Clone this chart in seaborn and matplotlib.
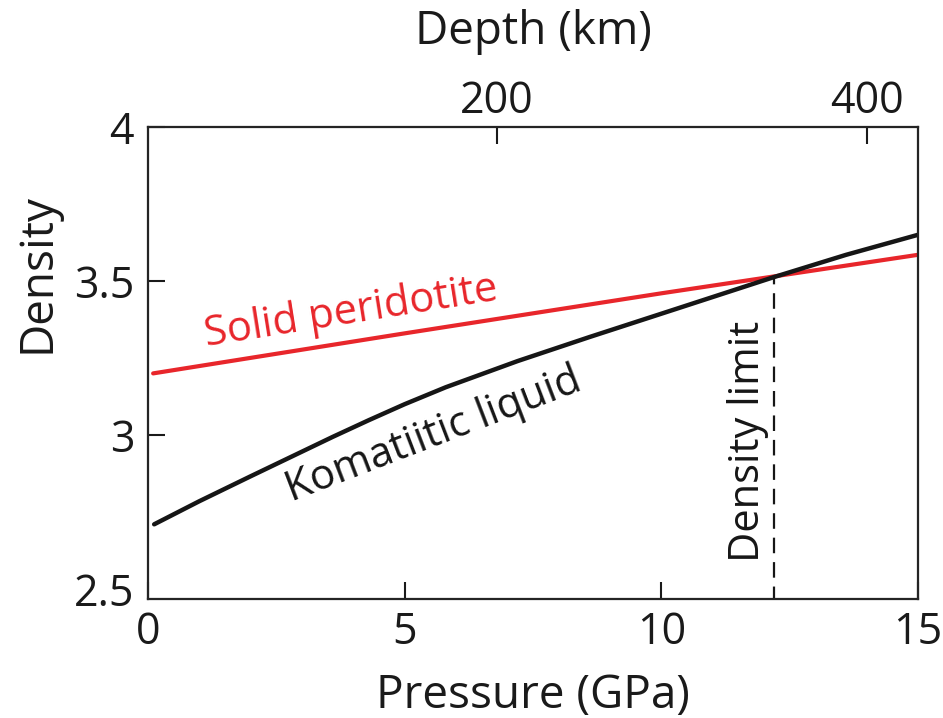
import numpy as np
import pandas as pd
import matplotlib
matplotlib.use('Agg')
import matplotlib.pyplot as plt
import seaborn as sns

# Solid peridotite (red)
solid_pressure = [0.1, 5.0, 10.0, 15.0]
solid_density = [3.20, 3.33, 3.46, 3.585]

# Komatiitic liquid (black)
liquid_pressure = [0.12, 1.0, 2.0, 2.8, 3.6, 4.3, 5.0, 5.8, 7.2, 8.6, 10.3, 12.2, 13.6, 15.0]
liquid_density = [2.71, 2.785, 2.866, 2.93, 2.994, 3.048, 3.1, 3.155, 3.24, 3.318, 3.41, 3.513, 3.585, 3.65]

# density limit (crossover)
limit_pressure = 12.2
limit_density = 3.52

# top axis: depth ticks and their pressure positions
depth_labels = ['200', '400']
depth_at_pressure = [6.8, 14.0]

sns.set_theme(style='ticks')
plt.rcParams['font.family'] = ['Open Sans', 'DejaVu Sans']

ink = '#1a1a1a'
red = '#e8262b'

fig = plt.figure(figsize=(9.43, 7.18), dpi=100)
ax = fig.add_axes([148 / 943, 1 - 599 / 718, (918 - 148) / 943, (599 - 127) / 718])

df_solid = pd.DataFrame({'P': solid_pressure, 'rho': solid_density})
df_liq = pd.DataFrame({'P': liquid_pressure, 'rho': liquid_density})
sns.lineplot(data=df_solid, x='P', y='rho', ax=ax, color=red, linewidth=3.0)
sns.lineplot(data=df_liq, x='P', y='rho', ax=ax, color='#161616', linewidth=3.2)
ax.plot([limit_pressure, limit_pressure], [2.3, limit_density], color='#161616',
        linewidth=1.6, linestyle=(0, (7, 4)))

ax.set_xlim(0, 15)
ax.set_ylim(2.4675, 4)
ax.set_xticks([0, 5, 10, 15])
ax.set_xticklabels(['0', '5', '10', '15'])
ax.set_yticks([2.5, 3, 3.5, 4])
ax.set_yticklabels(['2.5', '3', '3.5', '4'])
ax.tick_params(direction='in', length=12, width=1.5, labelsize=31, colors=ink)
ax.tick_params(axis='x', pad=8)
ax.tick_params(axis='y', pad=10)
ax.yaxis.get_major_ticks()[0].tick1line.set_visible(False)
ax.set_xlabel('Pressure (GPa)', fontsize=33, labelpad=13, color=ink)
ax.set_ylabel('Density', fontsize=33, color=ink)
ax.yaxis.set_label_coords(-0.114, 0.69)
for s in ax.spines.values():
    s.set_linewidth(1.6)
    s.set_color(ink)
    s.set_visible(True)

ax2 = ax.twiny()
ax2.set_xlim(ax.get_xlim())
ax2.set_xticks(depth_at_pressure)
ax2.set_xticklabels(depth_labels)
ax2.tick_params(direction='in', length=12, width=1.5, labelsize=31, pad=2, colors=ink)
ax2.set_xlabel('Depth (km)', fontsize=33, labelpad=26, color=ink)

ax.text(3.96, 3.40, 'Solid peridotite', color=red, fontsize=30,
        rotation=9, ha='center', va='center')
ax.text(5.56, 3.0, 'Komatiitic liquid', color='#161616', fontsize=30,
        rotation=21, ha='center', va='center')
ax.text(11.68, 2.98, 'Density limit', color='#161616', fontsize=30,
        rotation=90, ha='center', va='center')

fig.savefig('out.png', dpi=100)
